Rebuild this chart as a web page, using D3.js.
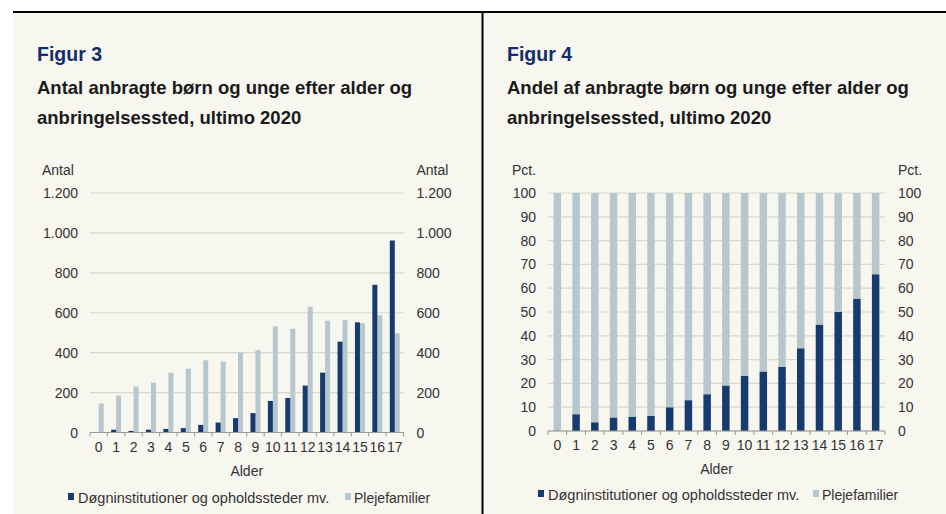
<!DOCTYPE html>
<html>
<head>
<meta charset="utf-8">
<script src="https://cdn.jsdelivr.net/npm/d3@7"></script>
<style>
  body { margin: 0; background: #fff; }
  text { font-family: "Liberation Sans", Arial, sans-serif; }
</style>
</head>
<body>
<div id="chart"></div>
<script>
// data
const alder = ["0","1","2","3","4","5","6","7","8","9","10","11","12","13","14","15","16","17"];
const antalInst  = [0, 14, 8, 14, 18, 22, 38, 50, 72, 97, 158, 173, 235, 300, 455, 552, 740, 962];
const antalPleje = [145, 185, 230, 250, 300, 320, 362, 355, 400, 412, 532, 520, 630, 560, 563, 548, 588, 497];
const andelInst  = [0, 7.0, 3.6, 5.6, 5.9, 6.3, 9.9, 12.9, 15.4, 19.0, 23.1, 24.9, 26.9, 34.7, 44.6, 50.0, 55.5, 65.8];
const andelPleje = [100, 93.0, 96.4, 94.4, 94.1, 93.7, 90.1, 87.1, 84.6, 81.0, 76.9, 75.1, 73.1, 65.3, 55.4, 50.0, 44.5, 34.2];
const ticksAntal = [0, 200, 400, 600, 800, 1000, 1200];
const ticksPct = [0, 10, 20, 30, 40, 50, 60, 70, 80, 90, 100];
const serier = ["Døgninstitutioner og opholdssteder mv.", "Plejefamilier"];

const width = 946, height = 514;
const navy = "#173a6f", lys = "#b8c7cd", bg = "#f7f6ef";
const fmt = d3.format(",d");
const danish = d => fmt(d).replace(/,/g, ".");

const svg = d3.select("#chart").append("svg")
    .attr("width", width)
    .attr("height", height);

svg.append("rect").attr("width", width).attr("height", height).attr("fill", "#fff");
svg.append("rect").attr("x", 13).attr("y", 12).attr("width", width - 13).attr("height", height - 12).attr("fill", bg);
svg.append("line").attr("x1", 13).attr("x2", width).attr("y1", 12).attr("y2", 12)
    .attr("stroke", "#000").attr("stroke-width", 2);
svg.append("line").attr("x1", 482.5).attr("x2", 482.5).attr("y1", 12).attr("y2", height)
    .attr("stroke", "#000").attr("stroke-width", 2);

function titles(x, fig, l1, l2) {
    svg.append("text").attr("x", x).attr("y", 61).text(fig)
        .attr("font-size", "19.5px").attr("font-weight", "bold").attr("fill", "#112d6b");
    svg.append("text").attr("x", x).attr("y", 93.5).text(l1)
        .attr("font-size", "18.5px").attr("font-weight", "bold").attr("fill", "#1a1a1a");
    svg.append("text").attr("x", x).attr("y", 124).text(l2)
        .attr("font-size", "18.5px").attr("font-weight", "bold").attr("fill", "#1a1a1a");
}

titles(37, "Figur 3", "Antal anbragte børn og unge efter alder og", "anbringelsessted, ultimo 2020");
titles(507, "Figur 4", "Andel af anbragte børn og unge efter alder og", "anbringelsessted, ultimo 2020");

// shared frame: gridlines, y labels both sides, x axis with ticks between categories
function frame(c) {
    const g = svg.append("g");
    g.selectAll(".grid").data(c.ticks).enter().append("line")
        .attr("x1", c.x0).attr("x2", c.x1)
        .attr("y1", d => c.y(d)).attr("y2", d => c.y(d))
        .attr("stroke", "#d8d8d2").attr("stroke-width", 1.2);
    g.selectAll(".yl").data(c.ticks).enter().append("text")
        .attr("x", c.x0 - 12).attr("y", d => c.y(d) + 5)
        .attr("text-anchor", "end").attr("font-size", "14px").attr("fill", "#333")
        .text(c.tickFmt);
    g.selectAll(".yr").data(c.ticks).enter().append("text")
        .attr("x", c.x1 + 13).attr("y", d => c.y(d) + 5)
        .attr("font-size", "14px").attr("fill", "#333")
        .text(c.tickFmt);
    g.append("text").attr("x", c.unitL).attr("y", 175).attr("font-size", "14px").attr("fill", "#333").text(c.unit);
    g.append("text").attr("x", c.x1 + 13).attr("y", 175).attr("font-size", "14px").attr("fill", "#333").text(c.unit);
    return g;
}

function xAxis(g, c, xb) {
    const y0 = c.y(0);
    g.append("line").attr("x1", c.x0).attr("x2", c.x1).attr("y1", y0).attr("y2", y0)
        .attr("stroke", "#999").attr("stroke-width", 1.2);
    const bounds = alder.map(a => xb(a)).concat([c.x1]);
    g.selectAll(".xt").data(bounds).enter().append("line")
        .attr("x1", d => d).attr("x2", d => d).attr("y1", y0).attr("y2", y0 + 4)
        .attr("stroke", "#999").attr("stroke-width", 1);
    g.selectAll(".xl").data(alder).enter().append("text")
        .attr("x", d => xb(d) + xb.bandwidth() / 2).attr("y", y0 + 19)
        .attr("text-anchor", "middle").attr("font-size", "14px").attr("fill", "#333")
        .text(d => d);
    g.append("text").attr("x", (c.x0 + c.x1) / 2).attr("y", y0 + 43)
        .attr("text-anchor", "middle").attr("font-size", "14px").attr("fill", "#333").text("Alder");
}

function legend(x, y, gap) {
    const g = svg.append("g").attr("transform", `translate(${x},${y})`);
    g.append("rect").attr("x", 0).attr("y", -10).attr("width", 6).attr("height", 7).attr("fill", navy);
    g.append("text").attr("x", 10).attr("y", 0).attr("font-size", "14.5px").attr("fill", "#333").text(serier[0]);
    g.append("rect").attr("x", gap).attr("y", -10).attr("width", 6).attr("height", 7).attr("fill", lys);
    g.append("text").attr("x", gap + 9).attr("y", 0).attr("font-size", "14px").attr("fill", "#333").text(serier[1]);
}

// Figur 3: grouped bars
const c3 = { x0: 90, x1: 403.5, ticks: ticksAntal, tickFmt: danish, unit: "Antal", unitL: 42,
    y: d3.scaleLinear().domain([0, 1200]).range([432.5, 193]) };
const x3 = d3.scaleBand().domain(alder).range([c3.x0, c3.x1]).padding(0);
const sub3 = d3.scaleBand().domain(["inst", "pleje"]).range([0, x3.bandwidth()]).paddingInner(0).paddingOuter(0.74);
const g3 = frame(c3);
g3.selectAll(".b3p").data(alder).enter().append("rect")
    .attr("x", d => x3(d) + sub3("pleje"))
    .attr("width", sub3.bandwidth())
    .attr("y", (d, i) => c3.y(antalPleje[i]))
    .attr("height", (d, i) => c3.y(0) - c3.y(antalPleje[i]))
    .attr("fill", lys);
g3.selectAll(".b3i").data(alder).enter().append("rect")
    .attr("x", d => x3(d) + sub3("inst"))
    .attr("width", sub3.bandwidth())
    .attr("y", (d, i) => c3.y(antalInst[i]))
    .attr("height", (d, i) => c3.y(0) - c3.y(antalInst[i]))
    .attr("fill", navy);
xAxis(g3, c3, x3);
legend(68, 503, 277);

// Figur 4: stacked 100% bars
const c4 = { x0: 548, x1: 885, ticks: ticksPct, tickFmt: d => d, unit: "Pct.", unitL: 512,
    y: d3.scaleLinear().domain([0, 100]).range([431, 193]) };
const x4 = d3.scaleBand().domain(alder).range([c4.x0, c4.x1]).padding(0);
const bar4 = d3.scaleBand().domain(alder).range([c4.x0, c4.x1]).paddingInner(0.6).paddingOuter(0.3);
const g4 = frame(c4);
g4.selectAll(".b4p").data(alder).enter().append("rect")
    .attr("x", d => bar4(d))
    .attr("width", bar4.bandwidth())
    .attr("y", (d, i) => c4.y(andelInst[i] + andelPleje[i]))
    .attr("height", (d, i) => c4.y(andelInst[i]) - c4.y(andelInst[i] + andelPleje[i]))
    .attr("fill", lys);
g4.selectAll(".b4i").data(alder).enter().append("rect")
    .attr("x", d => bar4(d))
    .attr("width", bar4.bandwidth())
    .attr("y", (d, i) => c4.y(andelInst[i]))
    .attr("height", (d, i) => c4.y(0) - c4.y(andelInst[i]))
    .attr("fill", navy);
xAxis(g4, c4, x4);
legend(538, 500, 275);
</script>
</body>
</html>
